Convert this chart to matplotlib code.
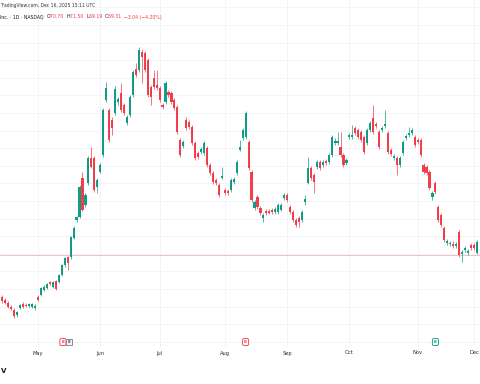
import matplotlib
matplotlib.use('Agg')
import matplotlib.pyplot as plt
import matplotlib.transforms as mtransforms
import pandas as pd

# ---------------- data (daily candles, Apr 14 - Dec 1 2025) -------------
start_date = '2025-04-14'
holidays = ['2025-04-18', '2025-05-26', '2025-06-19', '2025-07-04', '2025-09-01', '2025-11-27']

opens = [45.5, 43.8, 42.0, 39.8, 38.1, 35.2, 39.2, 41.5, 40.9, 40.3, 39.8, 39.2, 45.5, 46.6, 49.4, 50.6,
         54.0, 51.2, 54.6, 54.0, 58.0, 63.6, 68.2, 68.2, 79.0, 89.2, 90.9, 113.0, 97.7, 110.2, 124.4, 124.4,
         107.9, 116.5, 126.1, 157.4, 151.7, 146.0, 150.0, 156.2, 161.3, 154.5, 144.3, 148.8, 160.2, 175.0, 174.4, 184.6,
         184.1, 180.0, 164.7, 169.9, 165.9, 164.2, 154.5, 156.2, 161.9, 161.3, 157.4, 153.4, 134.6, 131.2, 146.0, 144.9,
         142.0, 132.9, 127.2, 127.8, 127.2, 130.1, 120.4, 115.9, 111.9, 109.0, 113.0, 106.2, 105.7, 106.2, 110.8, 115.9,
         129.0, 135.8, 136.3, 133.5, 116.5, 96.0, 102.3, 96.0, 90.3, 94.3, 94.3, 94.9, 93.7, 93.7, 94.9, 101.7,
         103.4, 96.6, 93.7, 89.2, 90.3, 89.2, 99.4, 110.2, 118.7, 114.8, 119.3, 122.1, 120.4, 122.7, 122.1, 126.1,
         132.9, 132.9, 130.7, 126.1, 121.6, 136.3, 136.3, 141.5, 140.3, 139.2, 136.3, 132.9, 140.3, 147.1, 143.7, 139.2,
         140.3, 142.6, 138.6, 129.0, 124.4, 124.4, 120.4, 127.2, 135.8, 137.5, 138.6, 136.3, 134.6, 134.6, 120.4, 119.3,
         116.5, 102.3, 110.2, 96.6, 92.0, 84.7, 76.1, 75.6, 75.6, 74.4, 82.4, 69.9, 72.2, 70.5, 75.0, 75.0, 70.5]
closes = [43.2, 42.0, 39.8, 38.6, 34.7, 36.9, 40.9, 39.8, 40.3, 41.5, 41.5, 40.3, 43.8, 50.6, 51.2, 52.9,
          52.9, 54.0, 50.0, 58.0, 63.6, 67.6, 64.8, 79.5, 84.7, 90.9, 107.9, 94.9, 103.4, 124.4, 119.3, 106.2,
          111.9, 120.4, 151.7, 164.2, 134.6, 141.5, 163.6, 157.9, 151.7, 150.0, 147.7, 159.1, 173.3, 171.6, 185.8, 181.8,
          174.4, 160.2, 159.1, 164.7, 164.2, 157.4, 153.4, 167.0, 160.2, 156.2, 152.8, 139.2, 126.1, 133.5, 141.5, 142.0,
          132.9, 124.4, 125.0, 129.5, 132.9, 120.4, 115.9, 110.8, 110.2, 103.4, 114.2, 104.5, 104.5, 111.9, 112.5, 122.1,
          130.7, 140.3, 150.0, 118.7, 100.6, 99.4, 96.6, 93.1, 92.0, 93.1, 93.1, 93.7, 95.4, 97.7, 97.7, 103.4,
          100.6, 93.7, 89.2, 86.4, 88.1, 93.7, 101.1, 118.7, 113.0, 110.8, 122.1, 118.7, 122.1, 121.6, 126.1, 136.3,
          134.1, 134.1, 126.1, 120.4, 123.3, 137.5, 137.5, 138.6, 136.3, 134.6, 127.8, 140.3, 144.3, 139.2, 142.6, 130.7,
          141.5, 143.7, 127.8, 126.7, 125.5, 120.4, 124.4, 133.5, 136.9, 138.6, 140.3, 131.8, 133.5, 126.1, 116.5, 115.9,
          107.3, 104.5, 105.1, 89.2, 86.4, 77.9, 77.3, 76.1, 74.4, 75.6, 69.3, 71.0, 73.3, 71.6, 73.3, 73.3, 76.7]
highs = [46.6, 44.9, 43.2, 40.9, 39.2, 37.5, 41.5, 42.6, 42.0, 42.0, 42.3, 41.5, 46.6, 51.2, 52.3, 53.5,
         54.6, 54.6, 55.1, 58.5, 64.2, 68.2, 68.8, 80.1, 85.8, 91.4, 109.0, 116.5, 104.5, 125.5, 130.7, 125.5,
         113.0, 121.6, 152.8, 167.6, 152.8, 147.7, 165.3, 159.1, 167.0, 155.6, 148.8, 160.2, 174.4, 178.4, 187.5, 186.3,
         185.2, 181.2, 165.9, 174.4, 174.4, 165.3, 155.6, 168.1, 163.0, 162.4, 158.5, 154.5, 135.8, 134.6, 147.7, 146.0,
         143.1, 134.1, 128.4, 130.7, 134.1, 131.2, 121.6, 117.0, 113.0, 110.2, 119.3, 107.3, 106.8, 113.0, 113.6, 123.3,
         134.6, 141.5, 151.1, 134.6, 117.6, 100.6, 103.4, 97.1, 93.1, 95.4, 95.4, 96.0, 96.6, 98.8, 98.8, 104.5,
         104.5, 97.7, 94.9, 90.3, 91.4, 94.9, 103.4, 125.0, 119.9, 115.9, 123.3, 123.3, 123.3, 123.8, 127.2, 137.5,
         135.8, 139.2, 139.2, 127.2, 124.4, 138.6, 143.1, 142.6, 141.5, 140.3, 137.5, 141.5, 145.4, 154.5, 144.9, 140.3,
         142.6, 151.7, 139.8, 130.1, 126.7, 125.5, 125.5, 134.6, 138.1, 142.0, 141.5, 137.5, 135.8, 135.8, 121.6, 120.4,
         117.6, 105.7, 111.3, 97.7, 93.1, 85.8, 78.4, 77.3, 77.3, 76.7, 83.5, 72.2, 74.4, 72.7, 76.1, 76.1, 77.9]
lows = [42.0, 41.5, 39.2, 38.1, 33.5, 33.9, 38.6, 39.2, 39.5, 39.8, 39.2, 38.1, 43.2, 46.0, 48.8, 50.0,
        52.3, 50.6, 49.4, 53.5, 57.4, 62.5, 60.8, 67.1, 78.4, 88.1, 90.3, 94.3, 96.6, 109.0, 118.7, 105.1,
        104.5, 115.9, 125.0, 156.2, 133.5, 137.5, 148.8, 154.5, 150.5, 148.8, 143.1, 147.7, 159.1, 170.5, 173.3, 167.0,
        173.3, 159.1, 154.5, 163.6, 163.0, 156.2, 152.3, 155.0, 159.1, 155.0, 151.7, 138.1, 125.0, 130.1, 140.3, 140.9,
        131.8, 123.3, 123.8, 126.7, 126.1, 119.3, 114.8, 109.6, 109.0, 102.3, 112.5, 103.4, 103.4, 105.1, 109.6, 114.8,
        128.4, 134.6, 135.2, 117.6, 99.4, 94.9, 95.4, 92.0, 88.1, 92.0, 92.5, 92.5, 92.5, 92.5, 94.3, 100.6,
        99.4, 92.5, 88.1, 85.2, 85.2, 88.1, 97.7, 109.6, 111.9, 104.5, 118.2, 117.6, 119.3, 120.4, 121.0, 125.0,
        131.8, 131.8, 125.0, 119.3, 120.4, 135.2, 135.2, 137.5, 135.2, 133.5, 126.7, 131.8, 139.2, 138.1, 141.5, 129.5,
        139.2, 141.5, 126.7, 125.5, 123.3, 114.8, 119.3, 126.1, 134.6, 136.3, 137.5, 130.7, 132.4, 125.0, 115.4, 114.8,
        106.2, 100.6, 104.0, 88.1, 85.2, 76.7, 75.0, 74.4, 73.3, 73.3, 68.2, 65.3, 71.0, 69.3, 72.2, 72.2, 69.9]

last_price = 69.31
month_labels = ['May', 'Jun', 'Jul', 'Aug', 'Sep', 'Oct', 'Nov', 'Dec']
earnings = [('2025-05-14', '#f23645'), ('2025-08-12', '#f23645'), ('2025-11-11', '#089981')]
header1 = 'TradingView.com, Dec 16, 2025 15:11 UTC'
header2 = [('Inc. · 1D · NASDAQ  ', '#131722'), ('O', '#131722'), ('70.70  ', '#f23645'),
           ('H', '#131722'), ('71.50  ', '#f23645'), ('L', '#131722'), ('69.19  ', '#f23645'),
           ('C', '#131722'), ('69.31  ', '#f23645'), ('\u22123.04 (\u22124.20%)', '#f23645')]

# ---------------- derived ----------------
n = len(opens)
dates = pd.bdate_range(start=start_date, periods=n + 5, freq='C', holidays=holidays)[:n]
df = pd.DataFrame({'open': opens, 'high': highs, 'low': lows, 'close': closes}, index=dates)
month_pos = []
prev = None
for i, d in enumerate(dates):
    if prev is not None and d.month != prev:
        month_pos.append(i)
    prev = d.month

UP, DOWN = '#089981', '#f23645'

fig = plt.figure(figsize=(4.8, 3.84), dpi=100)
fig.patch.set_facecolor('white')
ax = fig.add_axes([0, 37 / 384, 1, 347 / 384])
ax.set_xlim(-0.81, 161.03)
ax.set_ylim(17.05, 214.15)
for s in ax.spines.values():
    s.set_visible(False)
ax.set_xticks([])
ax.set_yticks([])

# grid
for p in range(20, 215, 10):
    ax.axhline(p, color='#f3f4f8', lw=0.7, zorder=0)
for m in month_pos:
    ax.axvline(m, color='#f3f4f8', lw=0.7, zorder=0)

# price line
ax.axhline(last_price, color='#f23645', lw=0.5, alpha=0.45, zorder=1)

# candles
for i, (o, h, l, c) in enumerate(zip(df['open'], df['high'], df['low'], df['close'])):
    col = UP if c >= o else DOWN
    ax.vlines(i, l, h, color=col, lw=0.6, zorder=2, alpha=0.8)
    bottom = min(o, c)
    height = max(abs(c - o), 0.6)
    ax.bar(i, height, bottom=bottom, width=0.72, color=col, edgecolor='none', zorder=3, alpha=0.95)

# month labels
trans = mtransforms.blended_transform_factory(ax.transData, fig.transFigure)
for m, lab in zip(month_pos, month_labels):
    ax.text(m, 1 - 353 / 384, lab, transform=trans, ha='center', va='center',
            fontsize=3.7, color='#2a2e39', fontweight='medium', clip_on=False)

# earnings badges
yb = 1 - 342 / 384
for k, (d, col) in enumerate(earnings):
    pos = dates.get_loc(pd.Timestamp(d))
    off = -0.6 if k == 0 else 0
    ax.text(pos + off, yb, 'E', transform=trans, ha='center', va='center', fontsize=3.2,
            color=col, fontweight='bold',
            bbox=dict(boxstyle='round,pad=0.35', fc='white', ec=col, lw=0.6), zorder=5)
# extra grey badge next to May earnings
pos0 = dates.get_loc(pd.Timestamp(earnings[0][0]))
ax.text(pos0 + 1.4, yb, 'E', transform=trans, ha='center', va='center', fontsize=3.2,
        color='#50535e', fontweight='bold',
        bbox=dict(boxstyle='square,pad=0.3', fc='#f5f5f5', ec='#787b86', lw=0.6), zorder=6)

# header text
fig.text(0.0, 1 - 6 / 384, header1, ha='left', va='center', fontsize=3.25, color='#30333b')
x = 0.0
r = fig.canvas.get_renderer()
for txt, col in header2:
    t = fig.text(x, 1 - 17 / 384, txt, ha='left', va='center', fontsize=3.3, color=col)
    bb = t.get_window_extent(renderer=r)
    x += bb.width / 480

# logo fragment
fig.text(0.002, 1 - 371 / 384, 'V', ha='left', va='center', fontsize=5, fontweight='bold', color='#131722')

fig.savefig('out.png', dpi=100, facecolor='white')
